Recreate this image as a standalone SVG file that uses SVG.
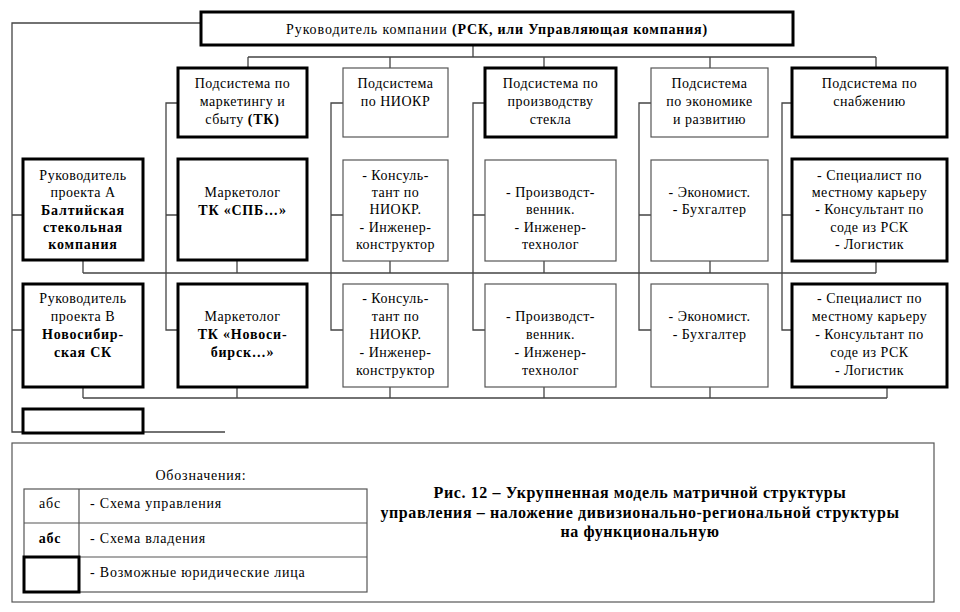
<svg xmlns="http://www.w3.org/2000/svg" width="960" height="612" viewBox="0 0 960 612" font-family="'Liberation Serif', 'DejaVu Serif', serif">
<style>
.thick{fill:#fff;stroke:#000;stroke-width:3}
.thin{fill:#fff;stroke:#555;stroke-width:1.2}
.conn{fill:none;stroke:#444;stroke-width:1.3}
.frame{fill:none;stroke:#555;stroke-width:1.2}
text{font-family:'Liberation Serif','DejaVu Serif',serif;font-size:14px;fill:#000;letter-spacing:0.5px}
.c{text-anchor:middle}
.b{font-weight:bold;letter-spacing:0.8px}
.lg{font-size:14px;letter-spacing:0.8px}
.cap{font-size:16px;font-weight:bold;letter-spacing:0.6px;text-anchor:middle}
</style>
<rect width="960" height="612" fill="#fff"/>
<g id="connectors" class="conn">
<path d="M201 23H12V432H225"/>
<path d="M12 215H23M12 330H23"/>
<path d="M473 45V57M248 57H876M248 57V68M390 57V68M544 57V68M710 57V68M876 57V68"/>
<path d="M178 103H166V330H178M166 215H178"/>
<path d="M343 103H331V330H343M331 215H343"/>
<path d="M485 103H473V330H485M473 215H485"/>
<path d="M651 103H639V330H651M639 215H651"/>
<path d="M792 103H782V330H792M782 215H792"/>
<path d="M83 273H876M83 260V273M237 260V273M390 261V273M544 261V273M710 261V273M876 261V273"/>
<path d="M83 398H887M83 387V398M237 387V398M390 387V398M544 387V398M710 387V398M887 387V398"/>
</g>
<g id="top">
<rect class="thick" x="201" y="12" width="592" height="33"/>
<text class="c" x="497" y="34" style="letter-spacing:0.9px">Руководитель компании <tspan class="b">(РСК, или Управляющая компания)</tspan></text>
</g>
<g id="sub-marketing">
<rect class="thick" x="178" y="68" width="129" height="69"/>
<text class="c" x="242.5" y="88">Подсистема по</text>
<text class="c" x="242.5" y="106">маркетингу и</text>
<text class="c" x="242.5" y="124">сбыту <tspan class="b">(ТК)</tspan></text>
</g>
<g id="sub-niokr">
<rect class="thin" x="343" y="68" width="105" height="69"/>
<text class="c" x="395.5" y="88">Подсистема</text>
<text class="c" x="395.5" y="106">по НИОКР</text>
</g>
<g id="sub-production">
<rect class="thick" x="485" y="68" width="131" height="69"/>
<text class="c" x="550.5" y="88">Подсистема по</text>
<text class="c" x="550.5" y="106">производству</text>
<text class="c" x="550.5" y="124">стекла</text>
</g>
<g id="sub-economics">
<rect class="thin" x="651" y="68" width="117" height="69"/>
<text class="c" x="709.5" y="88">Подсистема</text>
<text class="c" x="709.5" y="106">по экономике</text>
<text class="c" x="709.5" y="124">и развитию</text>
</g>
<g id="sub-supply">
<rect class="thick" x="792" y="68" width="155" height="69"/>
<text class="c" x="869.5" y="88">Подсистема по</text>
<text class="c" x="869.5" y="106">снабжению</text>
</g>
<g id="projA">
<rect class="thick" x="23" y="159" width="120" height="101"/>
<text class="c" x="83" y="180">Руководитель</text>
<text class="c" x="83" y="197">проекта А</text>
<text class="c b" x="83" y="215">Балтийская</text>
<text class="c b" x="83" y="232">стекольная</text>
<text class="c b" x="83" y="249">компания</text>
</g>
<g id="mkt-A">
<rect class="thick" x="178" y="159" width="129" height="101"/>
<text class="c" x="242.5" y="197">Маркетолог</text>
<text class="c b" x="242.5" y="215">ТК «СПБ…»</text>
</g>
<g id="niokr-A">
<rect class="thin" x="343" y="160" width="105" height="101"/>
<text class="c" x="395.5" y="180">- Консуль-</text>
<text class="c" x="395.5" y="197">тант по</text>
<text class="c" x="395.5" y="214">НИОКР.</text>
<text class="c" x="395.5" y="232">- Инженер-</text>
<text class="c" x="395.5" y="249">конструктор</text>
</g>
<g id="prod-A">
<rect class="thin" x="485" y="160" width="131" height="101"/>
<text class="c" x="550.5" y="197">- Производст-</text>
<text class="c" x="550.5" y="214">венник.</text>
<text class="c" x="550.5" y="232">- Инженер-</text>
<text class="c" x="550.5" y="249">технолог</text>
</g>
<g id="econ-A">
<rect class="thin" x="651" y="160" width="117" height="101"/>
<text class="c" x="709.5" y="197">- Экономист.</text>
<text class="c" x="709.5" y="214">- Бухгалтер</text>
</g>
<g id="supply-A">
<rect class="thick" x="792" y="159" width="155" height="102"/>
<text class="c" x="869.5" y="180">- Специалист по</text>
<text class="c" x="869.5" y="197">местному карьеру</text>
<text class="c" x="869.5" y="214">- Консультант по</text>
<text class="c" x="869.5" y="232">соде из РСК</text>
<text class="c" x="869.5" y="249">- Логистик</text>
</g>
<g id="projB">
<rect class="thick" x="23" y="284" width="120" height="103"/>
<text class="c" x="83" y="303">Руководитель</text>
<text class="c" x="83" y="321">проекта В</text>
<text class="c b" x="83" y="339">Новосибир-</text>
<text class="c b" x="83" y="357">ская СК</text>
</g>
<g id="mkt-B">
<rect class="thick" x="178" y="284" width="129" height="103"/>
<text class="c" x="242.5" y="321">Маркетолог</text>
<text class="c b" x="242.5" y="339">ТК «Новоси-</text>
<text class="c b" x="242.5" y="357">бирск…»</text>
</g>
<g id="niokr-B">
<rect class="thin" x="343" y="284" width="105" height="103"/>
<text class="c" x="395.5" y="303">- Консуль-</text>
<text class="c" x="395.5" y="321">тант по</text>
<text class="c" x="395.5" y="339">НИОКР.</text>
<text class="c" x="395.5" y="357">- Инженер-</text>
<text class="c" x="395.5" y="375">конструктор</text>
</g>
<g id="prod-B">
<rect class="thin" x="485" y="284" width="131" height="103"/>
<text class="c" x="550.5" y="321">- Производст-</text>
<text class="c" x="550.5" y="339">венник.</text>
<text class="c" x="550.5" y="357">- Инженер-</text>
<text class="c" x="550.5" y="375">технолог</text>
</g>
<g id="econ-B">
<rect class="thin" x="651" y="284" width="117" height="103"/>
<text class="c" x="709.5" y="321">- Экономист.</text>
<text class="c" x="709.5" y="339">- Бухгалтер</text>
</g>
<g id="supply-B">
<rect class="thick" x="792" y="284" width="155" height="103"/>
<text class="c" x="869.5" y="303">- Специалист по</text>
<text class="c" x="869.5" y="321">местному карьеру</text>
<text class="c" x="869.5" y="339">- Консультант по</text>
<text class="c" x="869.5" y="357">соде из РСК</text>
<text class="c" x="869.5" y="375">- Логистик</text>
</g>
<g id="entity-empty">
<rect class="thick" x="23" y="409" width="120" height="24"/>
</g>
<g id="legend">
<rect class="frame" x="12" y="443" width="922" height="159"/>
<text class="c lg" x="201" y="480">Обозначения:</text>
<rect class="frame" x="24" y="489" width="343" height="103"/>
<path class="frame" d="M24 523H367M24 557H367M79 489V592"/>
<rect class="thick" x="24" y="557" width="55" height="35"/>
<text class="c lg" x="50" y="508">абс</text>
<text class="lg" x="90" y="508">- Схема управления</text>
<text class="c b" x="50" y="543">абс</text>
<text class="lg" x="90" y="543">- Схема владения</text>
<text class="lg" x="90" y="577">- Возможные юридические лица</text>
</g>
<g id="caption">
<text class="cap" x="640" y="498">Рис. 12 – Укрупненная модель матричной структуры</text>
<text class="cap" x="640" y="518">управления – наложение дивизионально-региональной структуры</text>
<text class="cap" x="640" y="537">на функциональную</text>
</g>
</svg>
